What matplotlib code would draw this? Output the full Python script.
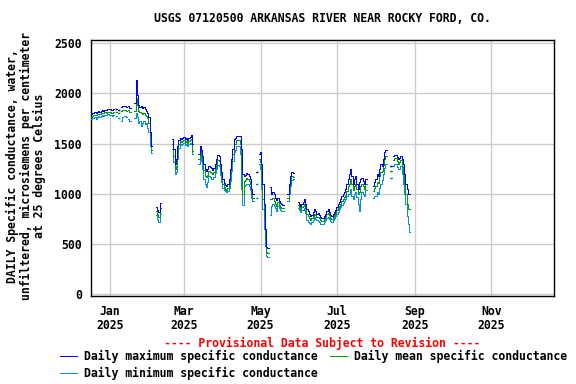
import numpy as np
import pandas as pd
import matplotlib
matplotlib.use('Agg')
import matplotlib.pyplot as plt
from matplotlib.lines import Line2D

nan = np.nan

# Daily values, 2024-12-17 .. 2025-08-28 (NaN = no data)
start_date = '2024-12-17'

max_sc = [
    1790, 1800, 1800, 1810, 1805, 1815, 1820, 1815, 1825, 1830, 1825, 1835, 1830, 1840, 1845, 1840, 1835, 1830, 1840,
    nan, 1840, nan, 1835, nan, 1860, 1870, nan, 1875, 1865, nan, 1870, 1850,
    nan, nan, nan,
    1900, 2130, 1980, 1880, 1860, 1870, 1850, 1860, 1840, 1820, 1800,
    1760, 1620, 1480,
    nan, nan, nan,
    870, 840, 820, 910,
    nan, nan, nan, nan, nan, nan, nan, nan, nan,
    1550, 1450, 1300, 1350, 1480, 1540, 1560, 1550, 1560, 1570, 1550, 1560, 1540, 1560, 1570, 1590, 1500,
    nan, nan, nan, nan,
    1400, 1480, 1440, 1380, 1300, 1250, 1230, 1250, 1280, 1270, 1260, 1240, 1260, 1300, 1350, 1390, 1380,
    1300, 1220, 1150, 1110, 1090, 1080, 1100, 1150, 1250, 1350, 1450, 1550,
    1560, 1580, 1580, 1580, 1580, 1450, 1200, 1180, 1190, 1210, 1200, 1180, 1150, 1050, 1000,
    nan, nan, 1215, nan,
    1400, 1420, 1300, 1100, 900, 650, 470, 460,
    nan,
    1070, 1000, 1020, 1000, 960, 940, 960, 930, 910, 900, 890,
    nan, nan, nan,
    1000, 1100, 1180, 1220, 1210,
    nan, nan, nan,
    920, 900, 880, 900,
    920, 950, 900, 850, 830, 800, 780,
    790, 820, 850, 830, 800, 810, 790, 770, 760, 760,
    780, 800, 830, 850, 820, 790, 780, 800, 820,
    840, 870, 900, 920, 950, 980, 1000, 1020, 1050, 1100,
    1150, 1200, 1250, 1180, 1100, 1150, 1180,
    1100, 1050, 1120, 1150, 1160, 1130, 1100, 1150,
    nan, nan, nan, nan, nan,
    1080, 1120, 1150, 1200, 1180, 1250, 1300, 1280, 1350, 1420, 1440,
    nan, nan, nan, 1280, nan,
    1380, 1390, 1390, 1370, 1350, 1360, 1380,
    1350, 1300, 1200, 1100, 1050, 1000, 1000,
]

mean_sc = [
    1765, 1775, 1780, 1785, 1780, 1790, 1795, 1790, 1800, 1805, 1800, 1810, 1805, 1815, 1815, 1810, 1805, 1800, 1810,
    nan, 1810, nan, 1805, nan, 1825, 1830, nan, 1835, 1825, nan, 1830, 1815,
    nan, nan, nan,
    1820, 1950, 1880, 1820, 1810, 1800, 1790, 1800, 1780, 1770, 1750,
    1700, 1560, 1440,
    nan, nan, nan,
    830, 800, 770, 860,
    nan, nan, nan, nan, nan, nan, nan, nan, nan,
    1500, 1380, 1250, 1280, 1420, 1500, 1530, 1520, 1530, 1540, 1520, 1530, 1510, 1530, 1540, 1550, 1430,
    nan, nan, nan, nan,
    1350, 1440, 1390, 1320, 1240, 1180, 1170, 1190, 1230, 1220, 1210, 1200, 1220, 1260, 1300, 1340, 1330,
    1250, 1170, 1100, 1070, 1050, 1040, 1060, 1100, 1200, 1300, 1400, 1500,
    1500, 1540, 1540, 1540, 1500, 1250, 1000, 1130, 1140, 1160, 1150, 1130, 1100, 1000, 960,
    nan, nan, 1100, nan,
    1350, 1320, 1150, 950, 750, 550, 420, 410,
    nan,
    950, 950, 960, 930, 900, 880, 920, 890, 870, 860, 855,
    nan, nan, nan,
    960, 1050, 1120, 1180, 1170,
    nan, nan, nan,
    890, 870, 850, 870,
    880, 900, 860, 800, 780, 760, 740,
    760, 780, 800, 790, 770, 770, 760, 740, 730, 730,
    750, 770, 800, 810, 790, 760, 750, 770, 790,
    810, 840, 860, 880, 900, 930, 950, 970, 990, 1030,
    1080, 1100, 1150, 1100, 1040, 1080, 1100,
    1050, 1000, 1020, 1080, 1100, 1080, 1050, 1100,
    nan, nan, nan, nan, nan,
    1030, 1060, 1080, 1120, 1110, 1180, 1220, 1230, 1290, 1350, 1380,
    nan, nan, nan, 1230, nan,
    1340, 1360, 1360, 1330, 1300, 1320, 1340,
    1280, 1200, 1100, 1000, 900, 850, 850,
]

min_sc = [
    1740, 1750, 1755, 1760, 1745, 1765, 1770, 1760, 1775, 1780, 1770, 1785, 1780, 1790, 1790, 1785, 1780, 1775, 1780,
    nan, 1770, nan, 1750, nan, 1720, 1760, nan, 1770, 1760, nan, 1745, 1720,
    nan, nan, nan,
    1750, 1800, 1760, 1700, 1720, 1680, 1700, 1720, 1690, 1700, 1660,
    1620, 1480, 1410,
    nan, nan, nan,
    790, 750, 720, 800,
    nan, nan, nan, nan, nan, nan, nan, nan, nan,
    1450, 1320, 1200, 1220, 1350, 1460, 1500, 1490, 1500, 1510, 1490, 1500, 1480, 1500, 1510, 1500, 1400,
    nan, nan, nan, nan,
    1300, 1400, 1330, 1250, 1150, 1100, 1070, 1120, 1180, 1170, 1150, 1150, 1170, 1210, 1250, 1290, 1280,
    1190, 1120, 1060, 1040, 1030, 1020, 1030, 1060, 1130, 1230, 1330, 1420,
    1440, 1480, 1480, 1480, 1400, 1050, 890, 1080, 1090, 1100, 1100, 1080, 1040, 960, 930,
    nan, nan, 955, nan,
    1300, 1250, 1050, 850, 650, 480, 380, 370,
    nan,
    790, 880, 900, 880, 860, 830, 880, 860, 840, 830, 830,
    nan, nan, nan,
    930, 1000, 1080, 1140, 1150,
    nan, nan, nan,
    860, 840, 820, 840,
    840, 860, 810, 740, 720, 710, 700,
    720, 740, 770, 750, 740, 730, 720, 700, 700, 700,
    720, 740, 760, 770, 750, 730, 720, 740, 760,
    780, 800, 820, 850, 870, 890, 910, 930, 950, 980,
    1000, 1000, 1050, 980, 950, 1000, 1020,
    970, 900, 830, 950, 1020, 1000, 980, 1040,
    nan, nan, nan, nan, nan,
    960, 980, 980, 1020, 1000, 1060, 1100, 1140, 1200, 1260, 1300,
    nan, nan, nan, 1160, nan,
    1280, 1300, 1300, 1270, 1250, 1250, 1280,
    1200, 1100, 1000, 900, 780, 700, 625,
]

dates = pd.date_range(start_date, periods=len(max_sc), freq='D')

series = [
    (max_sc, '#0000ff', 'Daily maximum specific conductance'),
    (mean_sc, '#00a000', 'Daily mean specific conductance'),
    (min_sc, '#0a8fdc', 'Daily minimum specific conductance'),
]

font = 'DejaVu Sans Mono'
fs = 8.3

fig = plt.figure(figsize=(5.76, 3.84), dpi=100)
ax = fig.add_axes([91 / 576, 1 - 296 / 384, 463 / 576, 256 / 384])

for vals, color, label in reversed(series):
    v = np.array(vals, dtype=float)
    ax.plot(dates, v, color=color, lw=0.5, antialiased=False,
            drawstyle='steps-mid', zorder=3)
    # isolated days (no neighbours) drawn as dots
    ok = ~np.isnan(v)
    prev = np.r_[False, ok[:-1]]
    nxt = np.r_[ok[1:], False]
    iso = ok & ~prev & ~nxt
    ax.plot(dates[iso], v[iso], ls='none', marker='s', ms=1.2, mew=0,
            color=color, zorder=3)

ax.set_xlim(pd.Timestamp('2024-12-16 20:00'), pd.Timestamp('2025-12-21'))
ax.set_ylim(-15, 2530)

xt = pd.to_datetime(['2025-01-01', '2025-03-01', '2025-05-01', '2025-07-01',
                     '2025-09-01', '2025-11-01'])
ax.set_xticks(xt)
ax.set_xticklabels([d.strftime('%b') + '\n' + d.strftime('%Y') for d in xt])
ax.set_yticks([0, 500, 1000, 1500, 2000, 2500])
ax.tick_params(length=0, pad=6.5, labelsize=fs)
for lab in ax.get_xticklabels() + ax.get_yticklabels():
    lab.set_family(font)
    lab.set_fontweight('bold')
    lab.set_linespacing(1.1)

ax.grid(True, color='#cccccc', lw=1.0)
ax.set_axisbelow(True)
for s in ax.spines.values():
    s.set_linewidth(1.0)

fig.text(322 / 576, 1 - 19 / 384, 'USGS 07120500 ARKANSAS RIVER NEAR ROCKY FORD, CO.',
         ha='center', va='center', family=font, fontweight='bold', fontsize=fs)
fig.text(26 / 576, 1 - 166 / 384,
         'DAILY Specific conductance, water,\nunfiltered, microsiemens per centimeter\nat 25 degrees Celsius',
         ha='center', va='center', rotation=90, multialignment='center',
         family=font, fontweight='bold', fontsize=fs, linespacing=1.05)

fig.text(322 / 576, 1 - 343 / 384, '---- Provisional Data Subject to Revision ----',
         ha='center', va='center', color='red', family=font, fontweight='bold', fontsize=fs)

# legend entries
legend_pos = [(60, 356), (330, 356), (60, 373)]
for (vals, color, label), (lx, ly) in zip(series, legend_pos):
    fig.add_artist(Line2D([lx / 576, (lx + 17) / 576], [1 - ly / 384, 1 - ly / 384],
                          color=color, lw=0.6, antialiased=False))
    fig.text((lx + 24) / 576, 1 - ly / 384, label, ha='left', va='center',
             family=font, fontweight='bold', fontsize=fs)

fig.savefig('out.png', dpi=100)
